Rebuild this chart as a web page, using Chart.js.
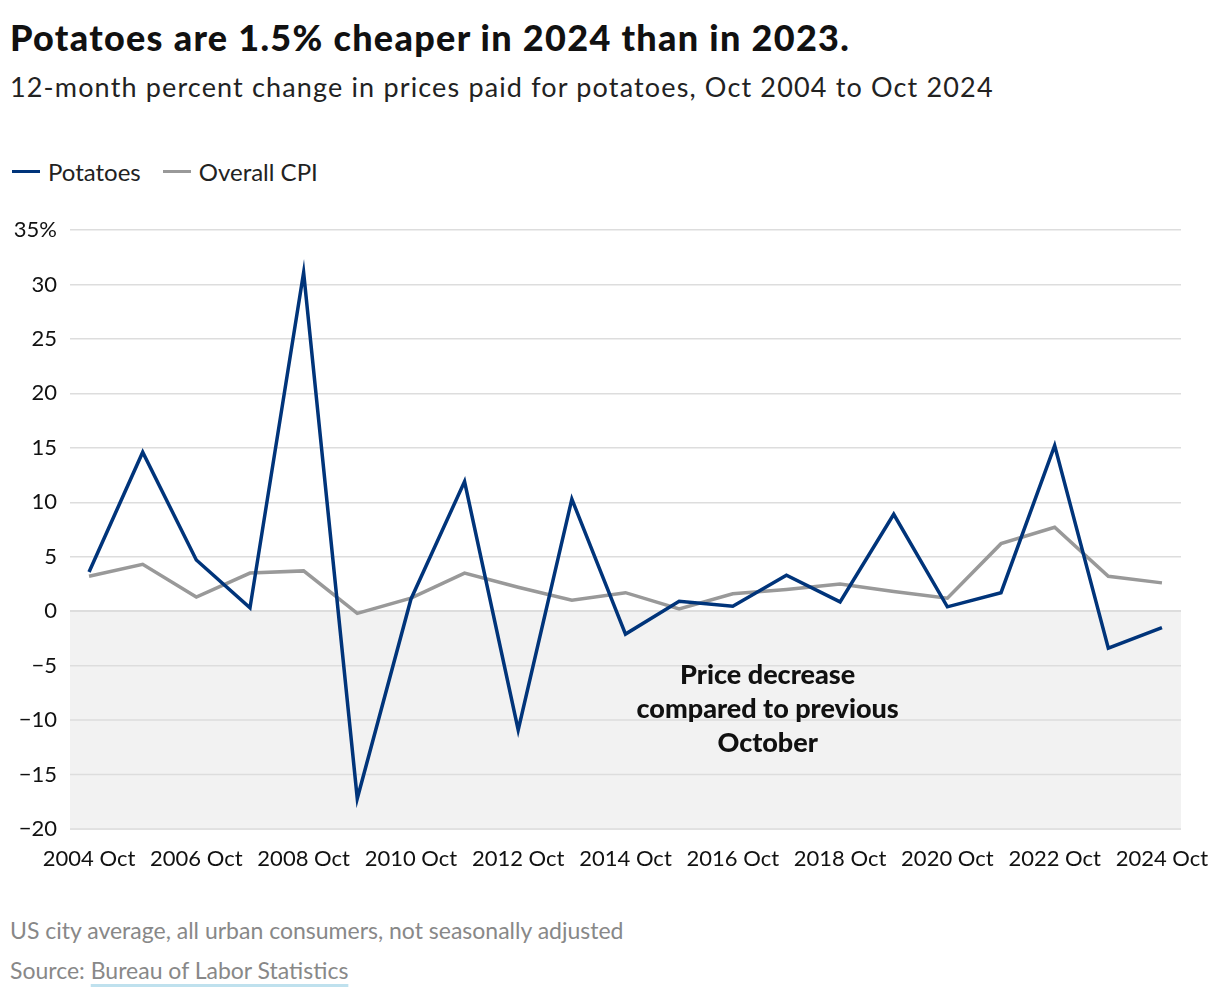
<!DOCTYPE html>
<html>
<head>
<meta charset="utf-8">
<script src="https://cdn.jsdelivr.net/npm/chart.js@4.4.1/dist/chart.umd.min.js"></script>
<style>
  html, body { margin: 0; padding: 0; background: #fff; }
  body { width: 1220px; height: 996px; position: relative; font-family: Lato, "Noto Sans", sans-serif; color: #111; overflow: hidden; }
  #title { position: absolute; left: 10px; top: 15px; font-size: 36px; font-weight: 900; letter-spacing: 1.3px; white-space: nowrap; }
  #subtitle { position: absolute; left: 10px; top: 70px; font-size: 27px; font-weight: 400; letter-spacing: 1.15px; color: #222; white-space: nowrap; }
  #legend { position: absolute; left: 12px; top: 157px; font-size: 24px; color: #222; display: flex; align-items: center; white-space: nowrap; }
  .sw { display: inline-block; width: 28px; height: 3.5px; margin-right: 8px; }
  .item { display: flex; align-items: center; margin-right: 22px; }
  #wrap { position: absolute; left: 0; top: 200px; width: 1220px; height: 680px; }
  #note { position: absolute; left: 10px; top: 916px; font-size: 23px; color: #888; white-space: nowrap; }
  #src { position: absolute; left: 10px; top: 956px; font-size: 23px; color: #888; white-space: nowrap; }
  #src span { text-decoration: underline; text-decoration-color: #bfe1ee; text-decoration-thickness: 3px; text-underline-offset: 5px; }
</style>
</head>
<body>
<div id="title">Potatoes are 1.5% cheaper in 2024 than in 2023.</div>
<div id="subtitle">12-month percent change in prices paid for potatoes, Oct 2004 to Oct 2024</div>
<div id="legend">
  <div class="item"><span class="sw" style="background:#00347a"></span>Potatoes</div>
  <div class="item"><span class="sw" style="background:#999"></span>Overall CPI</div>
</div>
<div id="wrap"><canvas id="c"></canvas></div>
<div id="note">US city average, all urban consumers, not seasonally adjusted</div>
<div id="src">Source: <span>Bureau of Labor Statistics</span></div>
<script>
const years = [2004,2005,2006,2007,2008,2009,2010,2011,2012,2013,2014,2015,2016,2017,2018,2019,2020,2021,2022,2023,2024];
const potatoes = [3.6,14.6,4.7,0.3,31.1,-17.2,1.1,11.9,-10.9,10.3,-2.1,0.9,0.45,3.3,0.85,8.9,0.4,1.7,15.2,-3.4,-1.5];
const cpi = [3.2,4.3,1.3,3.5,3.7,-0.2,1.2,3.5,2.2,1.0,1.7,0.2,1.6,2.0,2.5,1.8,1.2,6.2,7.7,3.2,2.6];
const xTickYears = [2004,2006,2008,2010,2012,2014,2016,2018,2020,2022,2024];
const yTicks = [35,30,25,20,15,10,5,0,-5,-10,-15,-20];
const annotationLines = ["Price decrease", "compared to previous", "October"];

const FONT = 'Lato, "Noto Sans", sans-serif';

const shadePlugin = {
  id: 'shade',
  beforeDatasetsDraw(chart) {
    const {ctx, chartArea, scales} = chart;
    const y0 = scales.y.getPixelForValue(0);
    ctx.save();
    ctx.fillStyle = '#f2f2f2';
    ctx.fillRect(chartArea.left, y0, chartArea.right - chartArea.left, chartArea.bottom - y0);
    ctx.strokeStyle = '#dddddd';
    ctx.lineWidth = 1.5;
    yTicks.forEach(v => {
      if (v <= 0) {
        const yy = scales.y.getPixelForValue(v);
        ctx.beginPath(); ctx.moveTo(chartArea.left, yy); ctx.lineTo(chartArea.right, yy); ctx.stroke();
      }
    });
    ctx.fillStyle = '#111';
    ctx.font = '900 27px ' + FONT;
    ctx.textAlign = 'center';
    ctx.textBaseline = 'middle';
    const ax = scales.x.getPixelForValue(2016.65);
    const ay = scales.y.getPixelForValue(-9.0);
    annotationLines.forEach((t, i) => ctx.fillText(t, ax, ay + (i - 1) * 34));
    ctx.restore();
  }
};

new Chart(document.getElementById('c'), {
  type: 'line',
  data: {
    datasets: [
      { label: 'Potatoes', data: years.map((y, i) => ({x: y, y: potatoes[i]})), borderColor: '#00347a', borderWidth: 3.5, pointRadius: 0, tension: 0, fill: false },
      { label: 'Overall CPI', data: years.map((y, i) => ({x: y, y: cpi[i]})), borderColor: '#999999', borderWidth: 3.5, pointRadius: 0, tension: 0, fill: false }
    ]
  },
  options: {
    responsive: true,
    maintainAspectRatio: false,
    animation: false,
    layout: { padding: { top: 30, right: 39, left: 0, bottom: 0 } },
    plugins: { legend: { display: false }, tooltip: { enabled: false } },
    scales: {
      x: {
        type: 'linear',
        min: 2003.645,
        max: 2024.355,
        afterBuildTicks: axis => { axis.ticks = xTickYears.map(v => ({value: v})); },
        afterFit: axis => { axis.height = 51; axis.paddingRight = 0; axis.paddingLeft = 0; },
        grid: { display: false, drawTicks: false },
        border: { display: false },
        ticks: { font: { family: FONT, size: 22 }, color: '#111', padding: 17, maxRotation: 0, autoSkip: false, callback: v => v + ' Oct' }
      },
      y: {
        min: -20,
        max: 35,
        afterBuildTicks: axis => { axis.ticks = yTicks.map(v => ({value: v})); },
        afterFit: axis => { axis.width = 70; },
        grid: { color: '#dddddd', lineWidth: 1.5, drawTicks: false },
        border: { display: false },
        ticks: { font: { family: FONT, size: 22 }, color: '#111', padding: 13,
          callback: v => v === 35 ? '35%' : (v < 0 ? '\u2212' + Math.abs(v) : String(v)) }
      }
    }
  },
  plugins: [shadePlugin]
});
</script>
</body>
</html>
